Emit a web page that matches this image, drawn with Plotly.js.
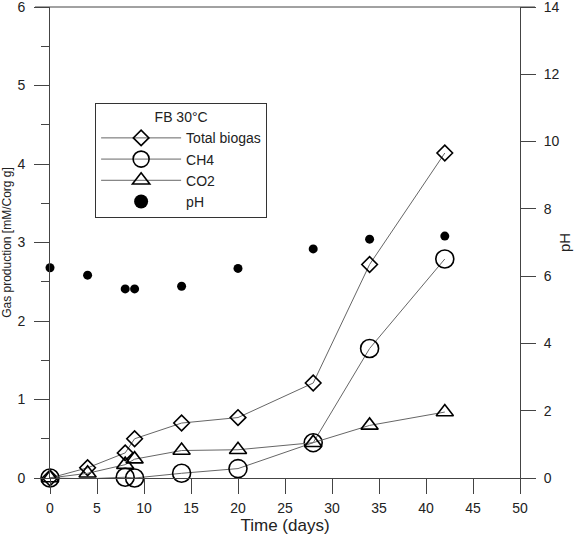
<!DOCTYPE html>
<html>
<head>
<meta charset="utf-8">
<script src="https://cdn.plot.ly/plotly-3.0.1.min.js"></script>
<style>
  html, body { margin: 0; padding: 0; background: #fff; }
  #chart { width: 581px; height: 535px; }
</style>
</head>
<body>
<div id="chart"></div>
<script>
// --- data ---
const days = [0, 4, 8, 9, 14, 20, 28, 34, 42];
const totalBiogas = [0, 0.13, 0.32, 0.5, 0.7, 0.77, 1.21, 2.72, 4.14];
const ch4 = [0, -0.01, 0.01, 0.0, 0.06, 0.12, 0.45, 1.65, 2.79];
const co2 = [0, 0.06, 0.17, 0.24, 0.35, 0.36, 0.45, 0.67, 0.84];
const ph = [6.25, 6.03, 5.62, 5.62, 5.70, 6.23, 6.81, 7.10, 7.19];

const legendTitle = 'FB 30°C';
const font = 'Liberation Sans, Arial, sans-serif';
const ink = '#222';
const axisColor = '#444';

const plotW = 581 - 50 - 61;

function gasTrace(name, y, symbol, size) {
    return {
        x: days, y: y, name: name,
        type: 'scatter', mode: 'lines+markers',
        cliponaxis: false,
        line: { color: '#666', width: 1 },
        marker: { symbol: symbol, size: size, color: '#000', line: { color: '#000', width: 1.6 } }
    };
}

const traces = [
    gasTrace('Total biogas', totalBiogas, 'diamond-open', 12),
    gasTrace('CH4', ch4, 'circle-open', 18),
    gasTrace('CO2', co2, 'triangle-up-open', 15),
    {
        x: days, y: ph, name: 'pH', yaxis: 'y2',
        type: 'scatter', mode: 'markers',
        cliponaxis: false, showlegend: false, legendgroup: 'ph',
        marker: { symbol: 'circle', size: 9, color: '#000' }
    },
    // legend entry for pH with the bigger dot the original key uses
    {
        x: [null], y: [null], name: 'pH', yaxis: 'y2',
        type: 'scatter', mode: 'markers', legendgroup: 'ph',
        marker: { symbol: 'circle', size: 14, color: '#000' }
    }
];

const layout = {
    width: 581, height: 535,
    margin: { l: 50, r: 61, t: 7, b: 57 },
    paper_bgcolor: '#fff', plot_bgcolor: '#fff',
    font: { family: font, color: ink, size: 14 },
    showlegend: true,
    legend: {
        x: 0.096, y: 0.796, xanchor: 'left', yanchor: 'top',
        bgcolor: '#fff', bordercolor: '#333', borderwidth: 1,
        font: { family: font, size: 14, color: ink },
        title: { text: legendTitle, side: 'top center', font: { family: font, size: 14, color: ink } },
        itemsizing: 'trace', itemwidth: 80,
        tracegroupgap: 0
    },
    // top frame line, running out over both tick columns like the original
    shapes: [{
        type: 'line', xref: 'paper', yref: 'paper',
        x0: -15 / plotW, x1: 1 + 15 / plotW, y0: 1, y1: 1,
        line: { color: axisColor, width: 1 }
    }],
    xaxis: {
        range: [0, 50], dtick: 5, tick0: 0,
        showgrid: false, zeroline: false,
        showline: true, linecolor: axisColor, linewidth: 1,
        ticks: 'outside', ticklen: 15, tickcolor: axisColor, tickwidth: 1,
        ticklabelstandoff: 2,
        tickfont: { size: 14, color: ink },
        title: { text: 'Time (days)', font: { size: 17, color: ink }, standoff: 4 }
    },
    yaxis: {
        range: [0, 6], dtick: 1, tick0: 0,
        showgrid: false, zeroline: false,
        showline: true, linecolor: axisColor, linewidth: 1,
        ticks: 'outside', ticklen: 15, tickcolor: axisColor, tickwidth: 1,
        ticklabeloverflow: 'allow', ticklabelstandoff: 6,
        minor: { dtick: 0.5, ticks: 'outside', ticklen: 8, tickcolor: axisColor, showgrid: false },
        tickfont: { size: 14, color: ink },
        title: { text: 'Gas production [mM/Corg g]', font: { size: 12, color: ink }, standoff: 4 }
    },
    yaxis2: {
        range: [0, 14], dtick: 2, tick0: 0,
        overlaying: 'y', side: 'right',
        showgrid: false, zeroline: false,
        showline: true, linecolor: axisColor, linewidth: 1,
        ticks: 'outside', ticklen: 15, tickcolor: axisColor, tickwidth: 1,
        ticklabeloverflow: 'allow', ticklabelstandoff: 5,
        tickfont: { size: 14, color: ink },
        title: { text: 'pH', font: { size: 15, color: ink }, standoff: 0 }
    }
};

Plotly.newPlot('chart', traces, layout, { displayModeBar: false, staticPlot: true });
</script>
</body>
</html>
